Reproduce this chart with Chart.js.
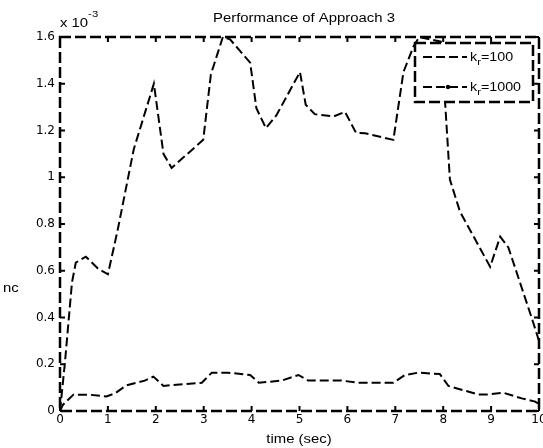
<!DOCTYPE html>
<html>
<head>
<meta charset="utf-8">
<script src="https://cdn.jsdelivr.net/npm/chart.js@4.4.0/dist/chart.umd.min.js"></script>
<style>
  html, body { margin: 0; padding: 0; background: #fff; }
  canvas { display: block; }
</style>
</head>
<body>
<canvas id="graficoRendimiento" width="543" height="448"></canvas>
<script>
// Datos (valores del eje y en unidades de 1e-3)
const tiempo100 = [0, 0.1, 0.25, 0.33, 0.54, 0.79, 1.0, 1.2, 1.54, 1.96, 2.16, 2.33, 2.99, 3.15, 3.4, 3.55,
  3.97, 4.1, 4.3, 4.52, 5.01, 5.13, 5.32, 5.71, 5.95, 6.18, 6.37, 6.96, 7.17, 7.38, 7.5, 7.95,
  8.04, 8.14, 8.35, 8.98, 9.19, 9.36, 9.85, 10];
const valores100 = [0, 0.2, 0.55, 0.635, 0.66, 0.61, 0.585, 0.77, 1.12, 1.40, 1.10, 1.04, 1.16, 1.44, 1.6, 1.59,
  1.49, 1.295, 1.21, 1.266, 1.45, 1.31, 1.27, 1.26, 1.28, 1.19, 1.188, 1.16, 1.45, 1.56, 1.6, 1.58,
  1.32, 0.99, 0.853, 0.617, 0.746, 0.70, 0.397, 0.30];

const tiempo1000 = [0, 0.06, 0.28, 0.6, 0.97, 1.15, 1.39, 1.77, 1.95, 2.16, 2.33, 2.96, 3.17, 3.51, 3.97,
  4.15, 4.63, 4.98, 5.18, 5.88, 6.23, 6.96, 7.2, 7.48, 7.93, 8.11, 8.73, 8.94, 9.26, 9.64, 9.92, 10];
const valores1000 = [0, 0.026, 0.07, 0.07, 0.062, 0.076, 0.11, 0.13, 0.147, 0.107, 0.111, 0.121, 0.164, 0.164, 0.154,
  0.121, 0.13, 0.154, 0.13, 0.13, 0.121, 0.121, 0.154, 0.164, 0.158, 0.107, 0.071, 0.071, 0.078, 0.054, 0.04, 0.03];

const valoresKr = ['100', '1000'];

const fuenteTexto = '"Liberation Sans", Arial, sans-serif';
const estiramiento = 1.19; // el texto original sale ensanchado

function puntos(xs, ys) {
  return xs.map((x, i) => ({ x: x, y: ys[i] }));
}

// texto ensanchado horizontalmente
function texto(ctx, str, x, y, size, align) {
  ctx.save();
  ctx.font = size + 'px ' + fuenteTexto;
  ctx.fillStyle = '#000';
  ctx.textAlign = align;
  ctx.textBaseline = 'alphabetic';
  ctx.translate(x, y);
  ctx.scale(estiramiento, 1);
  ctx.fillText(str, 0, 0);
  ctx.restore();
}

function anchoTexto(ctx, str, size) {
  ctx.save();
  ctx.font = size + 'px ' + fuenteTexto;
  const w = ctx.measureText(str).width * estiramiento;
  ctx.restore();
  return w;
}

function linea(ctx, x1, y1, x2, y2) {
  ctx.beginPath();
  ctx.moveTo(x1, y1);
  ctx.lineTo(x2, y2);
  ctx.stroke();
}

const marcoMatlab = {
  id: 'marcoMatlab',
  afterDraw(chart) {
    const ctx = chart.ctx;
    const a = chart.chartArea;
    const x = chart.scales.x;
    const y = chart.scales.y;
    ctx.save();
    ctx.strokeStyle = '#000';

    // caja punteada
    ctx.lineWidth = 2.5;
    ctx.setLineDash([11, 4]);
    ctx.strokeRect(a.left, a.top, a.right - a.left, a.bottom - a.top);

    // marcas hacia adentro
    ctx.setLineDash([]);
    ctx.lineWidth = 2;
    x.ticks.forEach(t => {
      const px = x.getPixelForValue(t.value);
      linea(ctx, px, a.bottom, px, a.bottom - 5);
      linea(ctx, px, a.top, px, a.top + 5);
    });
    y.ticks.forEach(t => {
      const py = y.getPixelForValue(t.value);
      linea(ctx, a.left, py, a.left + 5, py);
      linea(ctx, a.right, py, a.right - 5, py);
    });

    // titulos
    texto(ctx, 'Performance of Approach 3', 304, 22, 12.5, 'center');
    texto(ctx, 'time (sec)', 299, 443, 12.5, 'center');
    texto(ctx, 'nc', 3, 292, 12.5, 'left');
    texto(ctx, 'x 10', 60, 27, 12.5, 'left');
    texto(ctx, '-3', 60 + anchoTexto(ctx, 'x 10', 12.5), 17, 9.5, 'left');

    // leyenda
    const lx = 415, ly = 43, lw = 118, lh = 59;
    ctx.fillStyle = '#fff';
    ctx.fillRect(lx, ly, lw, lh);
    ctx.lineWidth = 2.5;
    ctx.setLineDash([11, 4]);
    ctx.strokeRect(lx, ly, lw, lh);

    chart.data.datasets.forEach((ds, i) => {
      const yy = ly + 14 + i * 30;
      ctx.lineWidth = ds.borderWidth;
      ctx.setLineDash(ds.borderDash);
      linea(ctx, lx + 8, yy, lx + 52, yy);
      ctx.setLineDash([]);
      if (i === 1) {
        ctx.fillStyle = '#000';
        ctx.beginPath();
        ctx.arc(lx + 33, yy, 2.2, 0, Math.PI * 2);
        ctx.fill();
      }
      let tx = lx + 55;
      texto(ctx, 'k', tx, yy + 4, 12, 'left');
      tx += anchoTexto(ctx, 'k', 12);
      texto(ctx, 'r', tx, yy + 8, 9.5, 'left');
      tx += anchoTexto(ctx, 'r', 9.5);
      texto(ctx, '=' + valoresKr[i], tx, yy + 4, 12, 'left');
    });
    ctx.restore();
  }
};

const ctx = document.getElementById('graficoRendimiento').getContext('2d');

const grafico = new Chart(ctx, {
  type: 'line',
  data: {
    datasets: [{
      label: 'k_r=' + valoresKr[0],
      data: puntos(tiempo100, valores100),
      borderColor: '#000',
      borderWidth: 2,
      borderDash: [9, 4],
      pointRadius: 0,
      fill: false,
      tension: 0
    }, {
      label: 'k_r=' + valoresKr[1],
      data: puntos(tiempo1000, valores1000),
      borderColor: '#000',
      borderWidth: 2,
      borderDash: [9, 4],
      pointRadius: 0,
      fill: false,
      tension: 0
    }]
  },
  options: {
    responsive: false,
    animation: false,
    layout: { padding: { top: 37, right: 4, left: 0, bottom: 0 } },
    plugins: {
      legend: { display: false },
      tooltip: { enabled: false },
      title: { display: false }
    },
    scales: {
      x: {
        type: 'linear',
        min: 0,
        max: 10,
        ticks: {
          stepSize: 1,
          color: '#000',
          padding: 2,
          maxRotation: 0,
          autoSkip: false,
          font: { family: 'DejaVu Sans', size: 12 }
        },
        grid: { display: false, drawTicks: false },
        border: { display: false },
        afterFit(s) {
          s.height = 37;
          s.paddingLeft = 0;
          s.paddingRight = 0;
        }
      },
      y: {
        min: 0,
        max: 1.6,
        ticks: {
          stepSize: 0.2,
          color: '#000',
          padding: 5,
          font: { family: 'DejaVu Sans', size: 12 },
          callback: v => String(parseFloat(v.toFixed(1)))
        },
        grid: { display: false, drawTicks: false },
        border: { display: false },
        afterFit(s) {
          s.width = 60;
          s.paddingTop = 0;
          s.paddingBottom = 0;
        }
      }
    }
  },
  plugins: [marcoMatlab]
});
</script>
</body>
</html>
